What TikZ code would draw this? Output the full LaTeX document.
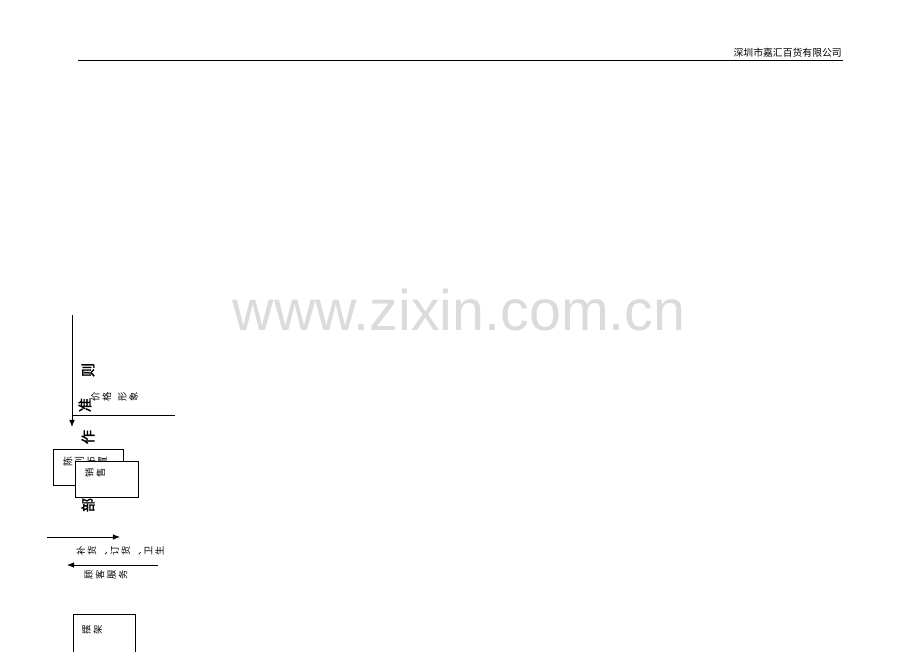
\documentclass[tikz,border=0pt]{standalone}
\usepackage{fontspec}
\usepackage{tikz}
\usetikzlibrary{arrows.meta}
\newfontfamily\cjk[AutoFakeBold=2]{Noto Sans CJK SC}
\newfontfamily\wmfont{Liberation Sans}
\tikzstyle{box}=[draw, fill=white, inner sep=0, outer sep=0, line width=0.6pt]
\tikzstyle{flow}=[-{Latex[length=6.5pt,width=5pt]}, line width=0.6pt]
\tikzstyle{bigchar}=[inner sep=0, rotate=90, font=\cjk\bfseries\fontsize{13}{14}\selectfont]
\tikzstyle{smallchars}=[inner sep=0, rotate=90, align=center, font=\cjk\fontsize{8.5}{10.5}\selectfont]

\begin{document}
\begin{tikzpicture}[x=0.915pt, y=-0.915pt]
    \useasboundingbox (0,0) rectangle (920,651);
    % header
    \node[anchor=east, inner sep=0, font=\cjk\fontsize{9}{10}\selectfont] (company) at (842,53) {深圳市嘉汇百货有限公司};
    \coordinate (ruleL) at (78,60);
    \coordinate (ruleR) at (843,60);
    \draw[line width=0.7pt] (ruleL) -- (ruleR);
    % watermark
    \node[inner sep=0, text=black!14, font=\wmfont\fontsize{52.5}{53}\selectfont] (mark) at (459,310) {www.zixin.com.cn};
    % flow on the left
    \coordinate (downS) at (72,315);
    \coordinate (downE) at (72,427);
    \coordinate (lineE) at (175,415);
    \draw[flow] (downS) -- (downE);
    \draw[line width=0.6pt] (downS |- lineE) -- (lineE);
    \node[bigchar] (ze)  at (88,370) {则};
    \node[bigchar] (zhun) at (85,405) {准};
    \node[bigchar] (zuo) at (88,437) {作};
    \node[bigchar] (bu)  at (88,505) {部};
    \node[smallchars] (price) at (101,397) {价\\格};
    \node[smallchars] (image) at (128,397) {形\\象};
    \node[box, minimum width=64pt, minimum height=33pt] (display) at (88,467) {};
    \node[smallchars, font=\cjk\fontsize{9}{10.5}\selectfont] (displayT) at (85,462) {陈\\列\\布\\置};
    \node[box, minimum width=57.6pt, minimum height=33pt] (sales) at (106.5,479) {};
    \node[smallchars] (salesT) at (95,473) {销\\售};
    \coordinate (rightS) at (47,537);
    \coordinate (rightE) at (120,537);
    \draw[flow] (rightS) -- (rightE);
    \node[smallchars, font=\cjk\fontsize{8.5}{10.3}\selectfont] (restock) at (120,551) {补\\货\\、\\订\\货\\、\\卫\\生};
    \coordinate (leftS) at (158,565);
    \coordinate (leftE) at (67,565);
    \draw[flow] (leftS) -- (leftE);
    \node[smallchars] (service) at (106,575) {顾\\客\\服\\务};
    \node[box, minimum width=56.7pt, minimum height=36pt] (shelf) at (104,634) {};
    \node[smallchars] (shelfT) at (92,630) {摆\\架};
\end{tikzpicture}
\end{document}
